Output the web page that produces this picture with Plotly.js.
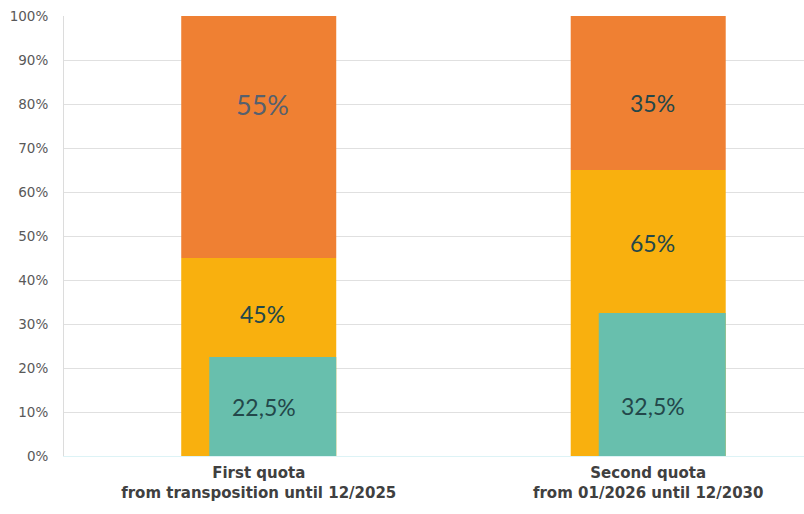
<!DOCTYPE html>
<html>
<head>
<meta charset="utf-8">
<script src="https://cdn.plot.ly/plotly-3.0.1.min.js"></script>
<style>html,body{margin:0;padding:0;background:#fff;}#chart{width:804px;height:514px;}</style>
</head>
<body>
<div id="chart"></div>
<script>
// Data
const categoryIndex = [0, 1];
const categoryLabels = ["<b>First quota</b><br><b>from transposition until 12/2025</b>",
                        "<b>Second quota</b><br><b>from 01/2026 until 12/2030</b>"];
const yellowValues = [45, 65];
const orangeValues = [55, 35];
const tealValues = [22.5, 32.5];
const yellowText = ["45%", "65%"];
const orangeText = ["55%", "35%"];
const tealText = ["22,5%", "32,5%"];
// where each label sits (in % of the axis)
const orangeLabelY = [80, 80.2];
const yellowLabelY = [32.3, 48.4];
const tealLabelY = [11.1, 11.4];
const yTickVals = [0,10,20,30,40,50,60,70,80,90,100];
const yTickText = yTickVals.map(v => v + "%");

const barW = 0.398, tealW = 0.326, tealOff = -0.127;

const traces = [
  {type:'bar', x:categoryIndex, y:yellowValues, base:[0,0], width:barW, offset:-barW/2,
   marker:{color:'#F9B00E', line:{width:0}}, hoverinfo:'skip'},
  {type:'bar', x:categoryIndex, y:orangeValues, base:yellowValues, width:barW, offset:-barW/2,
   marker:{color:'#EF8033', line:{width:0}}, hoverinfo:'skip'},
  {type:'bar', x:categoryIndex, y:tealValues, base:[0,0], width:tealW, offset:tealOff,
   marker:{color:'#68BFAD', line:{width:0}}, hoverinfo:'skip'}
];

const annotations = [];
categoryIndex.forEach((c, i) => {
  annotations.push({x:c, y:orangeLabelY[i], text:orangeText[i], showarrow:false, xshift:4,
    font:{family:'Lato', size: i===0 ? 27 : 23, color: i===0 ? '#56606E' : '#23474A'}});
  annotations.push({x:c, y:yellowLabelY[i], text:yellowText[i], showarrow:false, xshift:4,
    font:{family:'Lato', size:23, color:'#23474A'}});
  annotations.push({x:c, y:tealLabelY[i], text:tealText[i], showarrow:false, xshift:5,
    font:{family:'Lato', size:23, color:'#23474A'}});
});

const layout = {
  width:804, height:514,
  margin:{l:64, r:0, t:16, b:58},
  paper_bgcolor:'#fff', plot_bgcolor:'#fff',
  barmode:'overlay', showlegend:false,
  xaxis:{range:[-0.5, 1.4], tickvals:categoryIndex, ticktext:categoryLabels,
    showgrid:false, zeroline:false, showline:true, linecolor:'#DDF3F6', linewidth:1,
    ticks:'', ticklabelstandoff:3,
    tickfont:{family:'DejaVu Sans', size:15, color:'#404040'}, fixedrange:true},
  yaxis:{range:[0,100], tickvals:yTickVals, ticktext:yTickText,
    showgrid:true, gridcolor:'#E0E0E0', gridwidth:1, zeroline:false,
    showline:true, linecolor:'#DCDCDC', linewidth:1, ticks:'',
    ticklabelstandoff:12,
    tickfont:{family:'DejaVu Sans', size:13.5, color:'#595959'}, fixedrange:true},
  annotations: annotations
};

Plotly.newPlot('chart', traces, layout, {displayModeBar:false, staticPlot:true});
</script>
</body>
</html>
